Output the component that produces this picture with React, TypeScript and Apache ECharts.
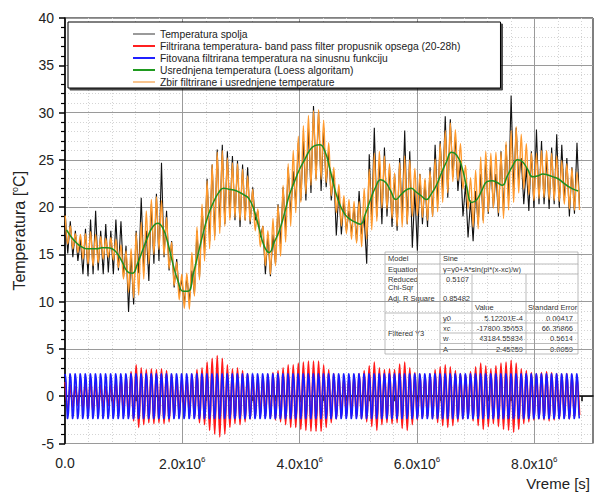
import React, { useEffect, useRef } from 'react';
import * as echarts from 'echarts';

// ---- fit parameters of the sine model (shown in the table) ----
const FIT_Y0 = 5.12201e-4;
const FIT_XC = -17800.35653;
const FIT_W = 43184.55834;
const FIT_A = 2.45259;
const FIT_Y0_ERR = 0.00417;
const FIT_XC_ERR = 66.35866;
const FIT_W_ERR = 0.5614;
const FIT_A_ERR = 0.0059;
const REDUCED_CHI_SQR = 0.5107;
const ADJ_R_SQUARE = 0.85482;

// ---- daily values (one entry per day) ----
const tempMax = [
  19.3, 18.5, 17.5, 16.6, 17.7, 18.7, 19.6, 17.5, 18.2, 17.5,
  18.7, 18.5, 15.9, 15.0, 17.5, 21.0, 17.5, 20.3, 21.4, 24.7,
  19.6, 16.4, 14.5, 12.4, 12.6, 13.3, 17.5, 19.9, 23.0, 24.5,
  26.1, 26.6, 25.9, 25.4, 24.9, 24.5, 24.2, 22.1, 19.6, 18.0,
  17.1, 17.1, 20.3, 22.1, 24.2, 23.8, 26.8, 27.0, 28.4, 30.7,
  30.2, 28.4, 25.9, 23.8, 21.7, 20.7, 19.6, 20.0, 21.7, 19.0,
  25.6, 28.4, 24.9, 26.3, 24.2, 23.5, 25.2, 28.1, 25.9, 21.7,
  23.5, 22.8, 24.2, 26.6, 27.0, 29.6, 29.3, 27.4, 24.9, 22.4,
  20.7, 21.7, 23.5, 25.2, 24.5, 23.5, 25.9, 26.6, 31.8, 28.4,
  25.2, 24.2, 25.9, 28.2, 27.0, 25.2, 26.3, 27.7, 26.6, 25.2,
  24.2, 26.8,
];
const tempMin = [
  15.1, 14.7, 14.3, 12.9, 12.7, 12.9, 13.3, 12.9, 13.1, 12.9,
  13.3, 12.6, 8.9, 9.7, 13.0, 13.3, 12.2, 14.0, 14.3, 14.7,
  13.3, 11.5, 10.8, 9.8, 10.1, 10.8, 12.6, 15.4, 16.4, 17.0,
  17.9, 18.2, 18.9, 18.6, 17.9, 18.6, 18.2, 18.6, 16.8, 12.9,
  12.7, 14.0, 16.1, 17.5, 19.2, 20.3, 20.7, 20.7, 21.5, 23.0,
  21.7, 22.1, 20.7, 17.0, 17.1, 17.5, 17.3, 16.4, 17.1, 14.0,
  18.6, 19.0, 18.2, 19.0, 17.9, 17.5, 19.0, 18.2, 15.7, 15.4,
  18.2, 17.9, 19.0, 20.3, 21.7, 21.0, 23.2, 21.7, 19.0, 16.8,
  16.4, 18.2, 18.6, 19.3, 19.9, 19.0, 19.6, 20.7, 21.7, 22.8,
  20.3, 19.6, 19.9, 20.3, 20.3, 19.8, 20.3, 19.9, 20.7, 19.0,
  19.3, 20.0,
];
const loessDaily = [
  17.6, 16.8, 16.2, 15.8, 15.6, 15.6, 15.6, 15.7, 15.7, 15.6,
  15.1, 14.2, 13.2, 13.0, 14.0, 15.4, 16.8, 17.9, 18.3, 17.8,
  16.2, 14.0, 12.2, 11.1, 11.1, 12.9, 15.1, 17.3, 19.2, 20.5,
  21.5, 22.0, 21.9, 21.8, 21.6, 21.3, 20.9, 19.7, 17.8, 15.9,
  15.2, 16.3, 17.5, 19.3, 21.3, 22.7, 24.0, 25.0, 26.0, 26.5,
  26.6, 25.9, 24.0, 21.8, 20.2, 19.2, 18.7, 18.4, 18.2, 19.3,
  20.8, 22.1, 22.9, 22.6, 21.7, 20.8, 21.3, 21.8, 22.0, 21.6,
  21.2, 20.8, 21.4, 22.3, 23.6, 24.8, 25.8, 25.5, 24.3, 22.1,
  20.5, 20.8, 21.8, 22.7, 22.8, 22.6, 22.3, 23.3, 24.3, 25.0,
  24.8, 24.0, 23.2, 23.3, 23.5, 23.4, 23.2, 23.0, 22.6, 22.2,
  21.9, 21.7,
];
const bandAmp = [
  1.5, 1.2, 1.0, 1.3, 1.6, 1.8, 1.5, 1.2, 1.0, 1.2,
  1.5, 1.8, 2.2, 2.6, 3.3, 3.0, 2.8, 2.9, 2.8, 2.9,
  2.7, 2.3, 2.0, 1.8, 1.9, 2.3, 2.8, 3.0, 3.6, 4.0,
  4.3, 4.0, 3.3, 2.9, 3.0, 2.7, 2.4, 2.2, 2.0, 2.1,
  2.3, 2.5, 2.7, 3.0, 3.3, 3.3, 3.5, 3.6, 3.7, 3.7,
  3.7, 3.3, 2.8, 2.4, 2.2, 2.0, 2.1, 2.2, 2.4, 2.7,
  3.2, 3.6, 3.0, 2.8, 2.9, 2.8, 3.4, 3.6, 3.0, 2.5,
  2.3, 2.2, 2.4, 2.8, 3.1, 3.3, 3.1, 2.7, 2.4, 2.3,
  2.6, 3.1, 3.5, 3.2, 2.9, 3.2, 3.5, 3.6, 3.8, 3.5,
  2.9, 2.7, 2.5, 2.4, 2.5, 2.6, 2.5, 2.4, 2.3, 2.4,
  2.2, 2.0,
];

const xTickValues = [0, 2e6, 4e6, 6e6, 8e6];
const yTickValues = [-5, 0, 5, 10, 15, 20, 25, 30, 35, 40];

const NAMES = [
  'Temperatura spolja',
  'Filtrirana temperatura- band pass filter propusnik opsega (20-28h)',
  'Fitovana filtrirana temperatura na sinusnu funkciju',
  'Usrednjena temperatura (Loess algoritam)',
  'Zbir filtrirane i usrednjene temperature',
];

// time of daily maximum / minimum from the fitted phase
const peakTime = (n: number) => FIT_XC + FIT_W / 2 + 2 * FIT_W * n;
const troughTime = (n: number) => peakTime(n) + FIT_W;

function buildSeriesData() {
  const black: number[][] = [];
  const red: number[][] = [];
  const orange: number[][] = [];
  const green: number[][] = [];
  for (let n = 0; n < tempMax.length; n++) {
    black.push([peakTime(n), tempMax[n]], [troughTime(n), tempMin[n]]);
    red.push([peakTime(n), bandAmp[n]], [troughTime(n), -bandAmp[n]]);
    orange.push([peakTime(n), loessDaily[n] + bandAmp[n]], [troughTime(n), loessDaily[n] - bandAmp[n]]);
    green.push([peakTime(n) + FIT_W / 2, loessDaily[n]]);
  }
  const blue: number[][] = [];
  const tEnd = troughTime(tempMax.length - 1);
  for (let t = 0; t <= tEnd; t += FIT_W / 6) {
    blue.push([t, FIT_Y0 + FIT_A * Math.sin((Math.PI * (t - FIT_XC)) / FIT_W)]);
  }
  return { black, red, orange, green, blue };
}

export default function App() {
  const ref = useRef<HTMLDivElement>(null);
  useEffect(() => {
    if (!ref.current) return;
    const chart = echarts.init(ref.current, undefined, { renderer: 'svg' });
    const d = buildSeriesData();
    const font = 'Arial, "Liberation Sans", sans-serif';
    const tx = (x: number, y: number, text: string, align: string = 'left') => ({
      type: 'text',
      x,
      y,
      silent: true,
      style: { text, fill: '#333', font: `7.5px ${font}`, align, verticalAlign: 'middle' },
    });
    const ln = (x1: number, y1: number, x2: number, y2: number) => ({
      type: 'line',
      silent: true,
      shape: { x1, y1, x2, y2 },
      style: { stroke: '#aaa', lineWidth: 0.8 },
    });
    const TL = 385, TR = 578, TT = 252, TB = 354;
    const tableChildren: any[] = [
      { type: 'rect', silent: true, shape: { x: TL, y: TT, width: TR - TL, height: TB - TT }, style: { fill: '#fff', stroke: '#aaa', lineWidth: 0.8 } },
      ln(TL, 264, TR, 264),
      ln(TL, 274, TR, 274),
      ln(TL, 313, TR, 313),
      ln(440, 323, TR, 323),
      ln(440, 333, TR, 333),
      ln(440, 343.5, TR, 343.5),
      ln(440, TT, 440, TB),
      ln(472, 274, 472, TB),
      ln(526, 274, 526, TB),
      tx(388, 258, 'Model'),
      tx(443, 258, 'Sine'),
      tx(388, 269, 'Equation'),
      tx(443, 269, 'y=y0+A*sin(pi*(x-xc)/w)'),
      tx(388, 279, 'Reduced'),
      tx(388, 287.5, 'Chi-Sqr'),
      tx(469, 279, String(REDUCED_CHI_SQR), 'right'),
      tx(388, 298, 'Adj. R Square'),
      tx(470, 298, String(ADJ_R_SQUARE), 'right'),
      tx(475, 307, 'Value'),
      tx(528, 307, 'Standard Error'),
      tx(388, 333, 'Filtered Y3'),
      tx(443, 318, 'y0'),
      tx(523, 318, '5.12201E-4', 'right'),
      tx(573, 318, String(FIT_Y0_ERR), 'right'),
      tx(443, 328, 'xc'),
      tx(523, 328, String(FIT_XC), 'right'),
      tx(573, 328, String(FIT_XC_ERR), 'right'),
      tx(443, 338.5, 'w'),
      tx(523, 338.5, String(FIT_W), 'right'),
      tx(573, 338.5, String(FIT_W_ERR), 'right'),
      tx(443, 349, 'A'),
      tx(523, 349, String(FIT_A), 'right'),
      tx(573, 349, String(FIT_A_ERR), 'right'),
    ];

    const option: any = {
      animation: false,
      backgroundColor: '#fff',
      textStyle: { fontFamily: font },
      grid: { left: 65, right: 2, top: 18, bottom: 49.5, show: true, borderColor: '#000', borderWidth: 1, backgroundColor: 'transparent' },
      legend: {
        left: 68,
        top: 22,
        orient: 'vertical',
        selectedMode: false,
        padding: [6, 40, 0, 65],
        itemGap: 0,
        itemWidth: 22,
        itemHeight: 2,
        icon: 'rect',
        borderColor: '#000',
        borderWidth: 1,
        backgroundColor: '#fff',
        shadowColor: 'rgba(0,0,0,0.7)',
        shadowOffsetX: 2,
        shadowOffsetY: 2,
        shadowBlur: 0,
        textStyle: { fontSize: 10.3, color: '#222', lineHeight: 12, fontFamily: font },
        data: [
          { name: NAMES[0], itemStyle: { color: '#9a9a9a' } },
          { name: NAMES[1], itemStyle: { color: '#ff2020' } },
          { name: NAMES[2], itemStyle: { color: '#2020ff' } },
          { name: NAMES[3], itemStyle: { color: '#1f9a1f' } },
          { name: NAMES[4], itemStyle: { color: '#f8c48e' } },
        ],
      },
      xAxis: {
        type: 'value',
        min: 0,
        max: 9e6,
        interval: 2e6,
        axisLine: { lineStyle: { color: '#000', width: 1.5 } },
        axisTick: { show: true, length: 6, lineStyle: { color: '#000', width: 1.5 }, customValues: xTickValues },
        minorTick: { show: true, splitNumber: 5, length: 5, lineStyle: { color: '#000', width: 1.5 } },
        axisLabel: {
          margin: 12,
          color: '#222',
          fontSize: 14,
          customValues: xTickValues,
          formatter: (v: number) => (v === 0 ? '0.0' : `{m|${(v / 1e6).toFixed(1)}x10}{e|6}`),
          rich: {
            m: { fontSize: 14, color: '#222' },
            e: { fontSize: 8, color: '#222', padding: [0, 0, 9, 0] },
          },
        },
        splitLine: { show: true, lineStyle: { color: '#9a9a9a', width: 1 } },
        minorSplitLine: { show: true, lineStyle: { color: '#d4d4d4', width: 1, type: [1, 2] } },
      },
      yAxis: {
        type: 'value',
        min: -5,
        max: 40,
        interval: 5,
        name: 'Temperatura [{e|o}C]',
        nameLocation: 'middle',
        nameGap: 37,
        nameTextStyle: {
          fontSize: 16,
          color: '#222',
          rich: { e: { fontSize: 9, color: '#222', padding: [0, 0, 9, 0] } },
        },
        axisLine: { show: true, lineStyle: { color: '#000', width: 1.5 } },
        axisTick: { show: true, length: 6, lineStyle: { color: '#000', width: 1.5 }, customValues: yTickValues },
        minorTick: { show: true, splitNumber: 5, length: 4, lineStyle: { color: '#000', width: 1.2 } },
        axisLabel: { margin: 11, color: '#222', fontSize: 14, customValues: yTickValues },
        splitLine: { show: true, lineStyle: { color: '#9a9a9a', width: 1 } },
        minorSplitLine: { show: true, lineStyle: { color: '#d4d4d4', width: 1, type: [1, 2] } },
      },
      series: [
        { name: NAMES[0], type: 'line', data: d.black, symbol: 'none', z: 2, lineStyle: { color: '#111', width: 1.1 }, itemStyle: { color: '#111' } },
        { name: NAMES[1], type: 'line', data: d.red, symbol: 'none', smooth: 0.35, z: 2, lineStyle: { color: '#ff1a1a', width: 1.8 }, itemStyle: { color: '#ff1a1a' } },
        { name: NAMES[2], type: 'line', data: d.blue, symbol: 'none', smooth: true, z: 3, lineStyle: { color: '#1a1aff', width: 1.6 }, itemStyle: { color: '#1a1aff' } },
        { name: NAMES[4], type: 'line', data: d.orange, symbol: 'none', smooth: 0.35, z: 3, lineStyle: { color: '#ff9a2e', width: 1.4 }, itemStyle: { color: '#ff9a2e' } },
        { name: NAMES[3], type: 'line', data: d.green, symbol: 'none', smooth: true, z: 4, lineStyle: { color: '#1f8f1f', width: 1.5 }, itemStyle: { color: '#1f8f1f' } },
      ],
      graphic: [
        { type: 'group', silent: true, children: tableChildren },
        { type: 'text', right: 5, top: 476, silent: true, style: { text: 'Vreme [s]', fill: '#222', font: `15px ${font}` } },
      ],
    };
    chart.setOption(option);
    return () => chart.dispose();
  }, []);
  return <div ref={ref} style={{ position: 'absolute', left: 0, top: 0, width: 595, height: 493 }} />;
}
